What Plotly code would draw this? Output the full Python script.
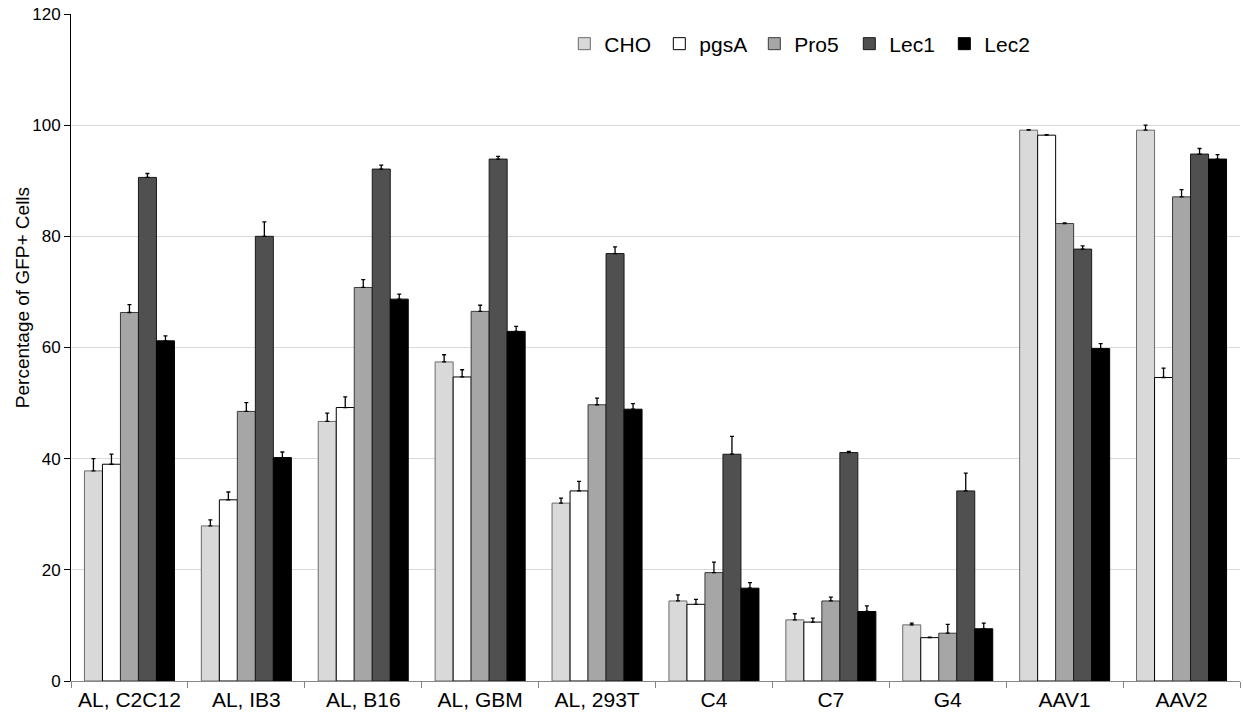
import plotly.graph_objects as go

# Cell lines / vectors on the x axis
categories = ["AL, C2C12", "AL, IB3", "AL, B16", "AL, GBM", "AL, 293T",
              "C4", "C7", "G4", "AAV1", "AAV2"]

# Mean percentage of GFP+ cells per CHO variant
cho  = [37.8, 27.9, 46.7, 57.4, 32.0, 14.4, 11.0, 10.1, 99.1, 99.1]
pgsa = [39.0, 32.6, 49.2, 54.7, 34.2, 13.8, 10.6,  7.8, 98.2, 54.6]
pro5 = [66.3, 48.5, 70.8, 66.5, 49.7, 19.5, 14.4,  8.6, 82.3, 87.1]
lec1 = [90.6, 80.0, 92.1, 93.9, 76.9, 40.8, 41.1, 34.2, 77.7, 94.8]
lec2 = [61.2, 40.2, 68.7, 62.9, 48.9, 16.7, 12.5,  9.4, 59.8, 93.9]

# Standard deviations (upper error bars)
cho_sd  = [2.2, 1.1, 1.5, 1.3, 0.9, 1.1, 1.1, 0.3, 0.1, 0.9]
pgsa_sd = [1.8, 1.4, 1.9, 1.3, 1.7, 0.9, 0.7, 0.1, 0.1, 1.7]
pro5_sd = [1.4, 1.6, 1.4, 1.1, 1.2, 1.9, 0.7, 1.6, 0.1, 1.3]
lec1_sd = [0.7, 2.6, 0.7, 0.5, 1.2, 3.2, 0.2, 3.2, 0.6, 1.0]
lec2_sd = [0.9, 1.0, 0.9, 0.9, 1.0, 1.0, 1.0, 1.0, 0.9, 0.8]

series = [
    ("CHO",  cho,  cho_sd,  "#d9d9d9", "#6a6a6a"),
    ("pgsA", pgsa, pgsa_sd, "#ffffff", "#000000"),
    ("Pro5", pro5, pro5_sd, "#a6a6a6", "#3a3a3a"),
    ("Lec1", lec1, lec1_sd, "#505050", "#1a1a1a"),
    ("Lec2", lec2, lec2_sd, "#000000", "#000000"),
]

FONT = "Liberation Sans, Arial, sans-serif"

fig = go.Figure()
for name, vals, sd, fill, edge in series:
    fig.add_trace(go.Bar(
        name=name, x=categories, y=vals,
        marker=dict(color=fill, line=dict(color=edge, width=1)),
        error_y=dict(type="data", array=sd, arrayminus=[0] * len(sd),
                     symmetric=False, color="#000000", thickness=1.3, width=2),
    ))

fig.update_layout(
    width=1243, height=723,
    margin=dict(l=71, r=3, t=14, b=42),
    paper_bgcolor="white", plot_bgcolor="white",
    barmode="group", bargap=0.23, bargroupgap=0,
    font=dict(family=FONT, color="#000000"),
    legend=dict(
        orientation="h", x=0.422, y=0.955, xanchor="left", yanchor="middle",
        font=dict(size=21, family=FONT), bgcolor="rgba(0,0,0,0)",
        entrywidth=50, entrywidthmode="pixels", traceorder="normal",
    ),
    showlegend=True,
)

# Y-axis title, placed a little above the vertical middle of the axis
fig.add_annotation(
    text="Percentage of GFP+ Cells", textangle=-90,
    xref="paper", yref="paper", x=-0.0419, y=0.574,
    xanchor="center", yanchor="middle", showarrow=False,
    font=dict(size=19, family=FONT, color="#000000"),
)

fig.update_xaxes(
    showline=True, linecolor="#868686", linewidth=1,
    ticks="outside", tickson="boundaries", ticklen=6, tickcolor="#868686",
    tickfont=dict(size=21, family=FONT, color="#000000"),
    showgrid=False, zeroline=False,
)
fig.update_yaxes(
    range=[0, 120], dtick=20, tick0=0,
    showline=True, linecolor="#000000", linewidth=1,
    ticks="outside", ticklen=6, tickcolor="#000000",
    tickfont=dict(size=17, family=FONT, color="#000000"),
    showgrid=True, gridcolor="#d9d9d9", gridwidth=1, zeroline=False,
)

fig.write_html("out.html")
